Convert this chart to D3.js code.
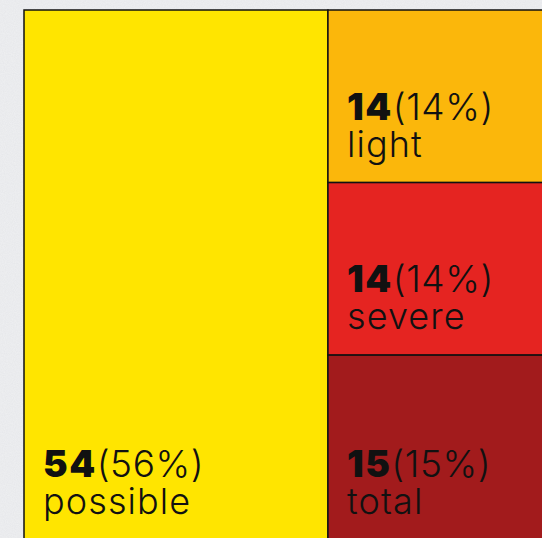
<!DOCTYPE html>
<html>
<head>
<meta charset="utf-8">
<script src="https://cdn.jsdelivr.net/npm/d3@7"></script>
<style>
  html, body { margin: 0; padding: 0; background: #eeeff1; }
  svg { display: block; }
  .lbl { font-family: Inter, "Open Sans", sans-serif; fill: #111; }
</style>
</head>
<body>
<div id="chart"></div>
<script>
// data
var categories = ["possible", "light", "severe", "total"];
var counts = [54, 14, 14, 15];
var colors = ["#ffe500", "#fbb70b", "#e52421", "#a21b1c"];

var width = 542, height = 538;
var area = { x: 24, y: 10, w: 546, h: 530 };

var svg = d3.select("#chart").append("svg")
    .attr("width", width)
    .attr("height", height);

// paper-ish background
var defs = svg.append("defs");
var f = defs.append("filter").attr("id", "grain");
f.append("feTurbulence").attr("type", "fractalNoise").attr("baseFrequency", 0.9).attr("numOctaves", 2).attr("seed", 3);
f.append("feColorMatrix").attr("type", "matrix")
    .attr("values", "0 0 0 0 0.55  0 0 0 0 0.56  0 0 0 0 0.6  0 0 0 0.22 0");
svg.append("rect").attr("width", width).attr("height", height).attr("fill", "#eff0f2");
svg.append("rect").attr("width", width).attr("height", height).attr("filter", "url(#grain)");

var total = d3.sum(counts);

// first category on the left, the rest stacked on the right
var tree = {
    name: "root",
    children: [
        { name: categories[0], value: counts[0], idx: 0 },
        { name: "rest", children: categories.slice(1).map((c, i) => ({ name: c, value: counts[i + 1], idx: i + 1 })) }
    ]
};

var root = d3.hierarchy(tree).sum(d => d.value || 0);

d3.treemap()
    .tile(d3.treemapSliceDice)
    .size([area.w, area.h])
    (root);

var g = svg.append("g").attr("transform", `translate(${area.x},${area.y})`);

var leaves = g.selectAll("g.leaf")
    .data(root.leaves())
    .enter()
    .append("g")
    .attr("class", "leaf")
    .attr("transform", d => `translate(${d.x0},${d.y0})`);

leaves.append("rect")
    .attr("width", d => d.x1 - d.x0)
    .attr("height", d => d.y1 - d.y0)
    .attr("fill", d => colors[d.data.idx])
    .attr("stroke", "#111")
    .attr("stroke-width", 1.5);

var pct = v => Math.round(v / total * 100) + "%";

var t1 = leaves.append("text")
    .attr("class", "lbl")
    .attr("x", 19)
    .attr("y", d => d.y1 - d.y0 - 63)
    .style("font-size", "37px");
t1.append("tspan")
    .style("font-weight", 900)
    .style("letter-spacing", "1.5px")
    .text(d => d.data.value);
t1.append("tspan")
    .style("font-weight", 300)
    .style("letter-spacing", "0.6px")
    .text(d => "(" + pct(d.data.value) + ")");

leaves.append("text")
    .attr("class", "lbl")
    .attr("x", 19)
    .attr("y", d => d.y1 - d.y0 - 26)
    .style("font-size", "36px")
    .style("font-weight", 300)
    .style("letter-spacing", "1.1px")
    .text(d => d.data.name);
</script>
</body>
</html>
